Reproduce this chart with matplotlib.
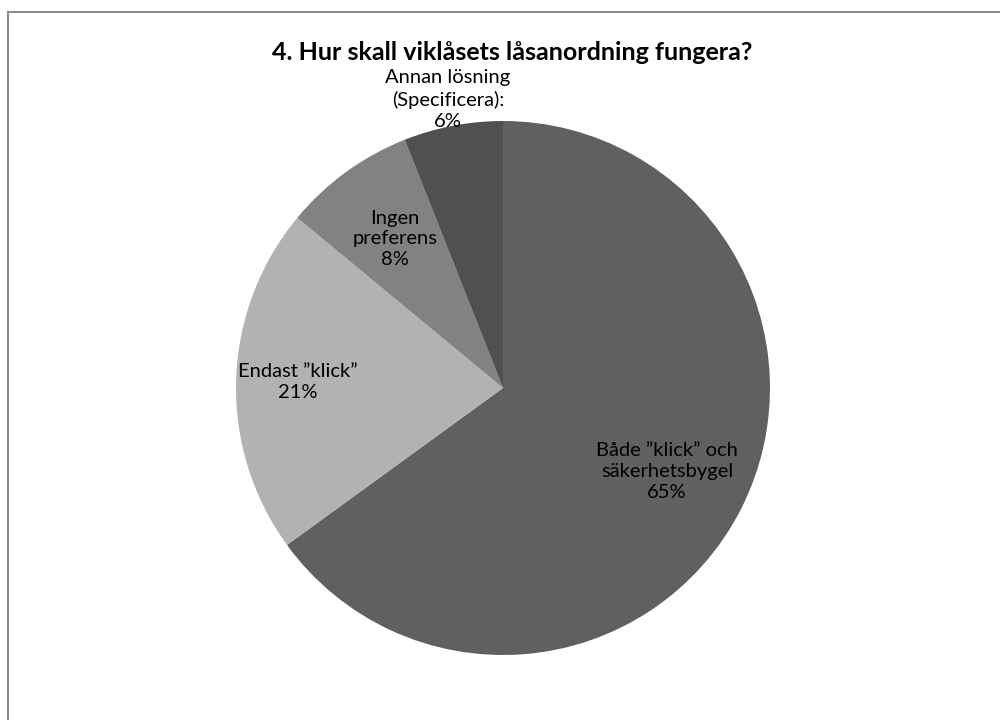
import matplotlib
matplotlib.use("Agg")
import matplotlib.pyplot as plt
import numpy as np
from matplotlib.lines import Line2D

title = "4. Hur skall viklåsets låsanordning fungera?"
categories = ["Både ”klick” och\nsäkerhetsbygel", "Endast ”klick”", "Ingen\npreferens", "Annan lösning\n(Specificera):"]
values = [65, 21, 8, 6]
colors = ["#606060", "#b2b2b2", "#828282", "#505050"]
label_dist = [0.69, 0.77, 0.69, 1.10]

plt.rcParams['font.family'] = ['Lato', 'DejaVu Sans']

fig = plt.figure(figsize=(10, 7.2), dpi=100)
fig.patch.set_facecolor("white")
# chart frame (left and top visible)
fig.add_artist(Line2D([8/1000, 8/1000], [0, 1 - 12/720], transform=fig.transFigure, color="#8c8c8c", lw=1.5))
fig.add_artist(Line2D([8/1000, 1], [1 - 12/720, 1 - 12/720], transform=fig.transFigure, color="#8c8c8c", lw=1.5))

cx, cy, r = 503, 388, 267
ax = fig.add_axes([(cx - r) / 1000, (720 - cy - r) / 720, 2 * r / 1000, 2 * r / 720])
wedges, _ = ax.pie(values, colors=colors, startangle=90, counterclock=False, radius=1,
                   wedgeprops=dict(linewidth=0))
ax.set_xlim(-1, 1)
ax.set_ylim(-1, 1)
ax.set_aspect("equal")
ax.axis("off")

total = sum(values)
for w, cat, v, d in zip(wedges, categories, values, label_dist):
    ang = np.deg2rad((w.theta1 + w.theta2) / 2)
    x, y = d * np.cos(ang), d * np.sin(ang)
    ax.text(x, y, f"{cat}\n{round(v / total * 100)}%", ha="center", va="center",
            fontsize=14.5, color="#000000", linespacing=1.28, clip_on=False)

fig.text(0.512, 1 - 52 / 720, title, ha="center", va="center", fontsize=18, fontweight="bold")

fig.savefig("out.png", dpi=100)
